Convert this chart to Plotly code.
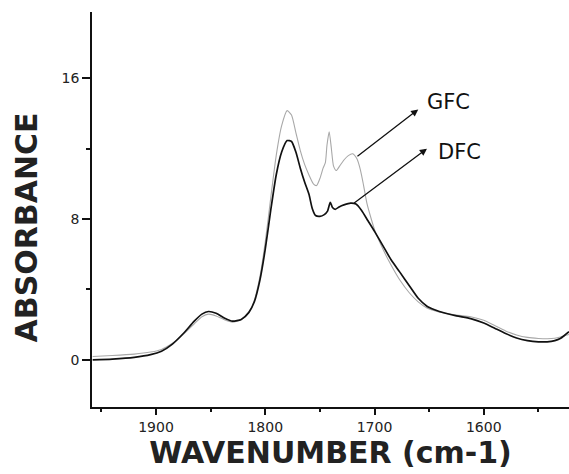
import plotly.graph_objects as go

# Wavenumber (cm-1) and absorbance values
dfc_x = [1958, 1940, 1920, 1905, 1895, 1885, 1875, 1865, 1858, 1852, 1845, 1838, 1830,
         1822, 1815, 1810, 1805, 1800, 1795, 1790, 1785, 1780, 1776, 1772, 1768, 1764,
         1760, 1757, 1754, 1750, 1746, 1743, 1740.5, 1738.5, 1736, 1732, 1728, 1722,
         1717, 1712, 1706, 1700, 1692, 1685, 1677, 1668, 1660, 1652, 1645, 1635, 1625,
         1612, 1600, 1590, 1580, 1570, 1560, 1550, 1542, 1535, 1530, 1526, 1522]
dfc_y = [0.0, 0.05, 0.15, 0.3, 0.5, 0.9, 1.5, 2.2, 2.6, 2.75, 2.65, 2.4, 2.2,
         2.3, 2.7, 3.3, 4.5, 6.3, 8.5, 10.5, 11.8, 12.45, 12.4, 11.8, 10.9, 10.1,
         9.4, 8.6, 8.2, 8.15, 8.25, 8.45, 8.95, 8.65, 8.55, 8.7, 8.8, 8.9,
         8.85, 8.5, 7.9, 7.3, 6.45, 5.7, 5.0, 4.2, 3.5, 3.05, 2.85, 2.65, 2.5,
         2.35, 2.1, 1.8, 1.5, 1.25, 1.1, 1.03, 1.03, 1.1, 1.22, 1.4, 1.6]

gfc_x = [1958, 1940, 1920, 1905, 1895, 1885, 1875, 1865, 1858, 1852, 1845, 1838, 1830,
         1822, 1815, 1810, 1805, 1800, 1795, 1790, 1785, 1780, 1776, 1772, 1768, 1764,
         1760, 1756, 1753, 1750, 1747, 1745, 1743.5, 1741.5, 1739.5, 1737.5, 1735, 1732,
         1728, 1724, 1720, 1716, 1713, 1710, 1707, 1703, 1700, 1692, 1685, 1677, 1668,
         1660, 1652, 1645, 1635, 1625, 1612, 1600, 1590, 1580, 1570, 1560, 1550, 1542,
         1535, 1530, 1526, 1522]
gfc_y = [0.2, 0.25, 0.33, 0.45, 0.6, 0.95, 1.45, 2.05, 2.45, 2.6, 2.5, 2.3, 2.15,
         2.3, 2.7, 3.4, 4.7, 6.7, 9.2, 11.6, 13.3, 14.15, 13.9, 12.9, 11.9, 11.1,
         10.5, 10.0, 9.9, 10.3, 10.9, 11.2, 12.2, 12.95, 12.0, 11.0, 10.75, 11.0,
         11.35, 11.6, 11.7, 11.4, 10.8, 9.9, 8.9, 8.0, 7.4, 6.25, 5.4, 4.55, 3.8,
         3.3, 2.95, 2.8, 2.65, 2.55, 2.45, 2.25, 1.95, 1.65, 1.42, 1.28, 1.22, 1.2,
         1.23, 1.3, 1.38, 1.45]

x_ticks = [1900, 1800, 1700, 1600]
y_ticks = [0, 8, 16]

# labels: (name, label x, label y, arrow tail x, arrow tail y, arrow head x, arrow head y)
labels = [
    ("GFC", 1653.5, 14.65, 1717, 11.5, 1660, 14.22),
    ("DFC", 1644, 11.78, 1720, 8.85, 1652, 11.99),
]

FONT = "DejaVu Sans"

fig = go.Figure()
fig.add_trace(go.Scatter(x=gfc_x, y=gfc_y, mode="lines", name="GFC",
                         line=dict(color="#a8a8a8", width=1.1, shape="spline", smoothing=0.6)))
fig.add_trace(go.Scatter(x=dfc_x, y=dfc_y, mode="lines", name="DFC",
                         line=dict(color="#111111", width=1.7, shape="spline", smoothing=0.6)))

for name, lx, ly, tx, ty, hx, hy in labels:
    fig.add_annotation(x=hx, y=hy, ax=tx, ay=ty, xref="x", yref="y", axref="x", ayref="y",
                       text="", showarrow=True, arrowhead=2, arrowsize=1.1, arrowwidth=1.3,
                       arrowcolor="#111111")
    fig.add_annotation(x=lx, y=ly, xref="x", yref="y", text=name, showarrow=False,
                       xanchor="left", yanchor="middle",
                       font=dict(family=FONT, size=21, color="#111111"))

# y-axis title placed as a rotated annotation (sits lower than the plot centre in the reference)
fig.add_annotation(x=-0.138, y=0.455, xref="paper", yref="paper", text="<b>ABSORBANCE</b>",
                   textangle=-90, showarrow=False, xanchor="center", yanchor="middle",
                   font=dict(family=FONT, size=30, color="#222222"))

fig.update_layout(
    width=569, height=474,
    margin=dict(l=92, r=0, t=12, b=67),
    paper_bgcolor="white", plot_bgcolor="white",
    showlegend=False,
    font=dict(family=FONT, color="#222222"),
)
fig.update_xaxes(
    range=[1958.6, 1522], tickvals=x_ticks, ticks="outside", ticklen=6, tickwidth=1.5,
    tickcolor="#111111", showline=True, linecolor="#111111", linewidth=1.5,
    showgrid=False, zeroline=False, tickfont=dict(family=FONT, size=14, color="#222222"),
    minor=dict(dtick=50, tick0=1550, ticks="outside", ticklen=3, tickwidth=1.5, tickcolor="#111111"),
    title=dict(text="<b>WAVENUMBER (cm-1)</b>", standoff=7,
               font=dict(family=FONT, size=30, color="#222222")),
    automargin=False,
)
fig.update_yaxes(
    range=[-2.67, 19.75], tickvals=y_ticks, ticks="outside", ticklen=8, tickwidth=1.5,
    tickcolor="#111111", showline=True, linecolor="#111111", linewidth=1.5,
    showgrid=False, zeroline=False, tickfont=dict(family=FONT, size=14, color="#222222"),
    minor=dict(dtick=4, tick0=0, ticks="outside", ticklen=4, tickwidth=1.5, tickcolor="#111111"),
    automargin=False,
)

fig.write_html("out.html")
